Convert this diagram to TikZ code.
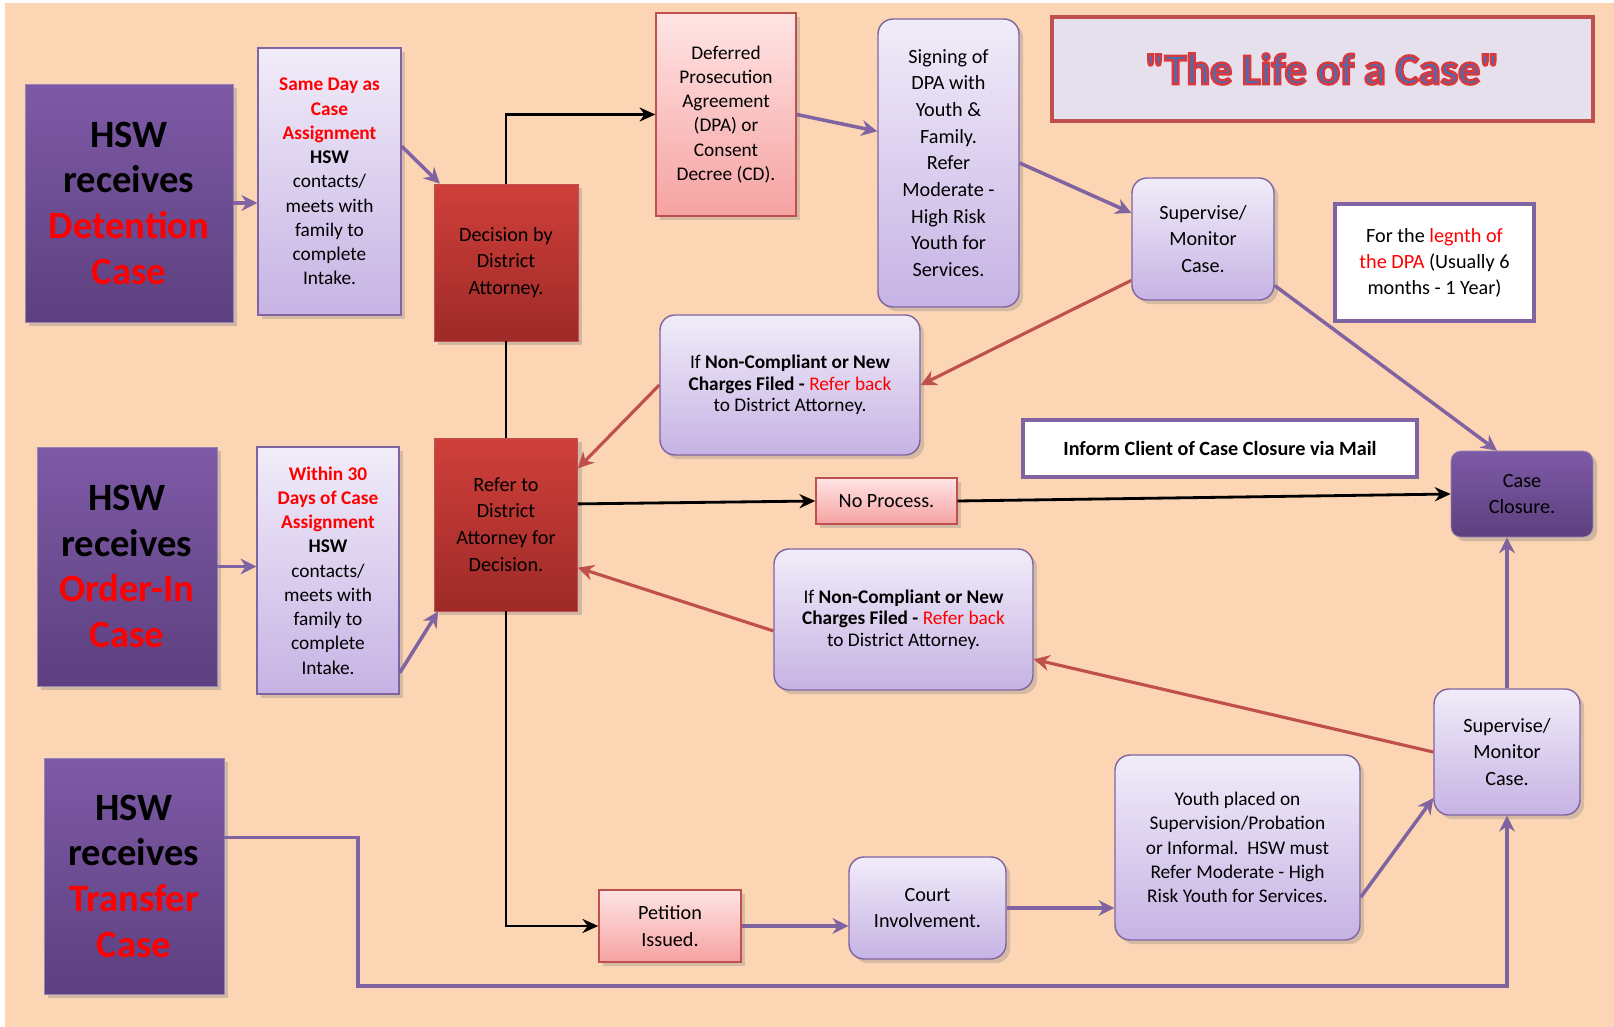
\documentclass[tikz,border=0pt]{standalone}
\usepackage{fontspec}
\setmainfont{Carlito}
\newfontfamily\titlefont{Carlito}[Ligatures=TeXOff]
\usepackage{xcolor}
\usetikzlibrary{shapes,positioning,arrows.meta,shadows}

\definecolor{peach}{HTML}{FCD5B4}
\definecolor{hswtop}{HTML}{7D5AA6}
\definecolor{hswbot}{HTML}{5D407F}
\definecolor{lavtop}{HTML}{F1ECF9}
\definecolor{lavbot}{HTML}{C6B3E4}
\definecolor{purpline}{HTML}{8064A2}
\definecolor{redline}{HTML}{C0504D}
\definecolor{datop}{HTML}{CF3F3A}
\definecolor{dabot}{HTML}{9E2A28}
\definecolor{pinktop}{HTML}{FFE4E4}
\definecolor{pinkbot}{HTML}{F6A2A2}
\definecolor{hotred}{HTML}{FF0000}
\definecolor{titlefill}{HTML}{E5E0EC}
\definecolor{titleblue}{HTML}{4F6BB0}
% outlined title text: blue fill, red stroke
\newcommand{\outlined}[1]{\textcolor{titleblue}{\special{pdf:code 2 Tr 1.4 w 0.85 0.22 0.24 RG}#1\special{pdf:code 0 Tr}}}

\begin{document}
\begin{tikzpicture}[
        x=0.02cm, y=-0.02cm,
        hswbox/.style={rectangle, draw=purpline!80, top color=hswtop, bottom color=hswbot, align=center, font=\fontsize{22}{26}\selectfont\bfseries, drop shadow={opacity=0.35}},
        intake/.style={rectangle, draw=purpline, line width=0.8pt, top color=lavtop, bottom color=lavbot, align=center, font=\fontsize{11}{13.8}\selectfont, drop shadow={opacity=0.3}},
        stage/.style={rectangle, rounded corners=0.3cm, draw=purpline, line width=0.8pt, top color=lavtop, bottom color=lavbot, align=center, font=\fontsize{11.5}{15.2}\selectfont, drop shadow={opacity=0.3}},
        dabox/.style={rectangle, draw=redline, top color=datop, bottom color=dabot, align=center, font=\fontsize{11.5}{15.2}\selectfont, drop shadow={opacity=0.35}},
        pinkbox/.style={rectangle, draw=redline, line width=0.8pt, top color=pinktop, bottom color=pinkbot, align=center, drop shadow={opacity=0.3}},
        notebox/.style={rectangle, draw=purpline, line width=2pt, fill=white, align=center},
        closebox/.style={rectangle, rounded corners=0.2cm, draw=purpline!80, top color=hswtop, bottom color=hswbot, align=center, font=\fontsize{11.5}{15.2}\selectfont, drop shadow={opacity=0.35}},
        parrow/.style={-{Stealth[length=9pt,width=9pt]}, line width=2pt, draw=purpline},
        rarrow/.style={-{Stealth[length=9pt,width=9pt]}, line width=1.8pt, draw=redline},
        barrow/.style={-{Stealth[length=9pt,width=8pt]}, line width=1.6pt, draw=black}
    ]
        % Background
        \useasboundingbox (0,0) rectangle (1614,1027);
        \fill[white] (0,0) rectangle (1614,1027);
        \fill[peach] (5,3) rectangle (1614,1027);

        % Title
        \node[rectangle, draw=redline, line width=2pt, fill=titlefill, minimum width=10.82cm, minimum height=2.08cm,
              font=\titlefont\fontsize{25}{30}\selectfont\bfseries] (title) at (1322.5,69) {\outlined{"The Life of a Case"}};

        % Intake row: Detention
        \node[hswbox, minimum width=4.16cm, minimum height=4.76cm] (det) at (129,203)
            {HSW\\receives\\\textcolor{hotred}{Detention}\\\textcolor{hotred}{Case}};
        \node[intake, minimum width=2.86cm, minimum height=5.34cm] (same) at (329.5,181.5)
            {\textcolor{hotred}{\textbf{Same Day as}}\\\textcolor{hotred}{\textbf{Case}}\\\textcolor{hotred}{\textbf{Assignment}}\\\textbf{HSW}\\contacts/\\meets with\\family to\\complete\\Intake.};
        \node[dabox, minimum width=2.88cm, minimum height=3.14cm] (decide) at (506,262.5)
            {Decision by\\District\\Attorney.};

        % Intake row: Order-In
        \node[hswbox, minimum width=3.6cm, minimum height=4.78cm] (order) at (127,566.5)
            {HSW\\receives\\\textcolor{hotred}{Order-In}\\\textcolor{hotred}{Case}};
        \node[intake, minimum width=2.84cm, minimum height=4.94cm] (within) at (328,570.5)
            {\textcolor{hotred}{\textbf{Within 30}}\\\textcolor{hotred}{\textbf{Days of Case}}\\\textcolor{hotred}{\textbf{Assignment}}\\\textbf{HSW}\\contacts/\\meets with\\family to\\complete\\Intake.};
        \node[dabox, minimum width=2.86cm, minimum height=3.46cm] (refer) at (506,524.5)
            {Refer to\\District\\Attorney for\\Decision.};

        % Intake row: Transfer
        \node[hswbox, minimum width=3.6cm, minimum height=4.72cm] (transfer) at (134,876)
            {HSW\\receives\\\textcolor{hotred}{Transfer}\\\textcolor{hotred}{Case}};

        % DPA branch
        \node[pinkbox, minimum width=2.8cm, minimum height=4.06cm, font=\fontsize{11}{13.8}\selectfont] (dpa) at (726,114.5)
            {Deferred\\Prosecution\\Agreement\\(DPA) or\\Consent\\Decree (CD).};
        \node[stage, minimum width=2.82cm, minimum height=5.76cm] (sign) at (948.5,163)
            {Signing of\\DPA with\\Youth \&\\Family.\\Refer\\Moderate -\\High Risk\\Youth for\\Services.};
        \node[stage, minimum width=2.84cm, minimum height=2.44cm] (sup1) at (1203,239)
            {Supervise/\\Monitor\\Case.};
        \node[notebox, minimum width=3.98cm, minimum height=2.34cm, font=\fontsize{11.5}{14.8}\selectfont] (length) at (1434.5,262.5)
            {For the \textcolor{hotred}{legnth of}\\\textcolor{hotred}{the DPA} (Usually 6\\months - 1 Year)};
        \node[stage, minimum width=5.2cm, minimum height=2.8cm, font=\fontsize{11}{12.3}\selectfont] (nc1) at (790,385)
            {If \textbf{Non-Compliant or New}\\\textbf{Charges Filed -} \textcolor{hotred}{Refer back}\\to District Attorney.};

        % Closure
        \node[notebox, minimum width=7.88cm, minimum height=1.14cm, font=\fontsize{11.5}{14}\selectfont\bfseries] (inform) at (1220,448.5)
            {Inform Client of Case Closure via Mail};
        \node[closebox, minimum width=2.84cm, minimum height=1.72cm] (close) at (1522,494)
            {Case\\Closure.};
        \node[pinkbox, minimum width=2.82cm, minimum height=0.92cm, font=\fontsize{11.5}{14}\selectfont] (noproc) at (886.5,501)
            {No Process.};

        % Petition branch
        \node[stage, minimum width=5.18cm, minimum height=2.82cm, font=\fontsize{11}{12.3}\selectfont] (nc2) at (903.5,619.5)
            {If \textbf{Non-Compliant or New}\\\textbf{Charges Filed -} \textcolor{hotred}{Refer back}\\to District Attorney.};
        \node[pinkbox, minimum width=2.84cm, minimum height=1.44cm, font=\fontsize{11.5}{15.2}\selectfont] (petition) at (670,926)
            {Petition\\Issued.};
        \node[stage, minimum width=3.14cm, minimum height=2.04cm] (court) at (927.5,908)
            {Court\\Involvement.};
        \node[stage, minimum width=4.9cm, minimum height=3.7cm, font=\fontsize{11}{13.8}\selectfont] (youth) at (1237.5,847.5)
            {Youth placed on\\Supervision/Probation\\or Informal.\ \ HSW must\\Refer Moderate - High\\Risk Youth for Services.};
        \node[stage, minimum width=2.92cm, minimum height=2.52cm] (sup2) at (1507,752)
            {Supervise/\\Monitor\\Case.};
        \coordinate (tbend) at (358,986);

        % Connections
        \draw[parrow] (det.east) -- (det.east -| same.west);
        \draw[parrow] (same.26) -- (decide.130);
        \draw[parrow] (order.east) -- (order.east -| within.west);
        \draw[parrow] (within.-55) -- (refer.232);
        \draw[barrow] (decide.north) |- (dpa.west);
        \draw[line width=1.6pt] (decide.south) -- (refer.north);
        \draw[barrow] (refer.south) |- (petition.west);
        \draw[barrow] (refer.16) -- (noproc.west);
        \draw[barrow] (noproc.east) -- (close.west);
        \draw[parrow] (dpa.east) -- (sign.156);
        \draw[parrow] (sign.east) -- (sup1.160);
        \draw[rarrow] (sup1.210) -- (nc1.east);
        \draw[rarrow] (nc1.west) -- (refer.38);
        \draw[parrow] (sup1.-33) -- (close.120);
        \draw[rarrow] (nc2.185) -- (refer.-31);
        \draw[rarrow] (sup2.west) -- (nc2.-17);
        \draw[parrow] (sup2.north) -- (sup2.north |- close.south);
        \draw[parrow] (petition.east) -- (petition.east -| court.west);
        \draw[parrow] (court.east) -- (court.east -| youth.west);
        \draw[parrow] (youth.-22) -- (sup2.212);
        \draw[parrow] (transfer.23) -| (tbend) -| (sup2.south);
    \end{tikzpicture}
\end{document}
